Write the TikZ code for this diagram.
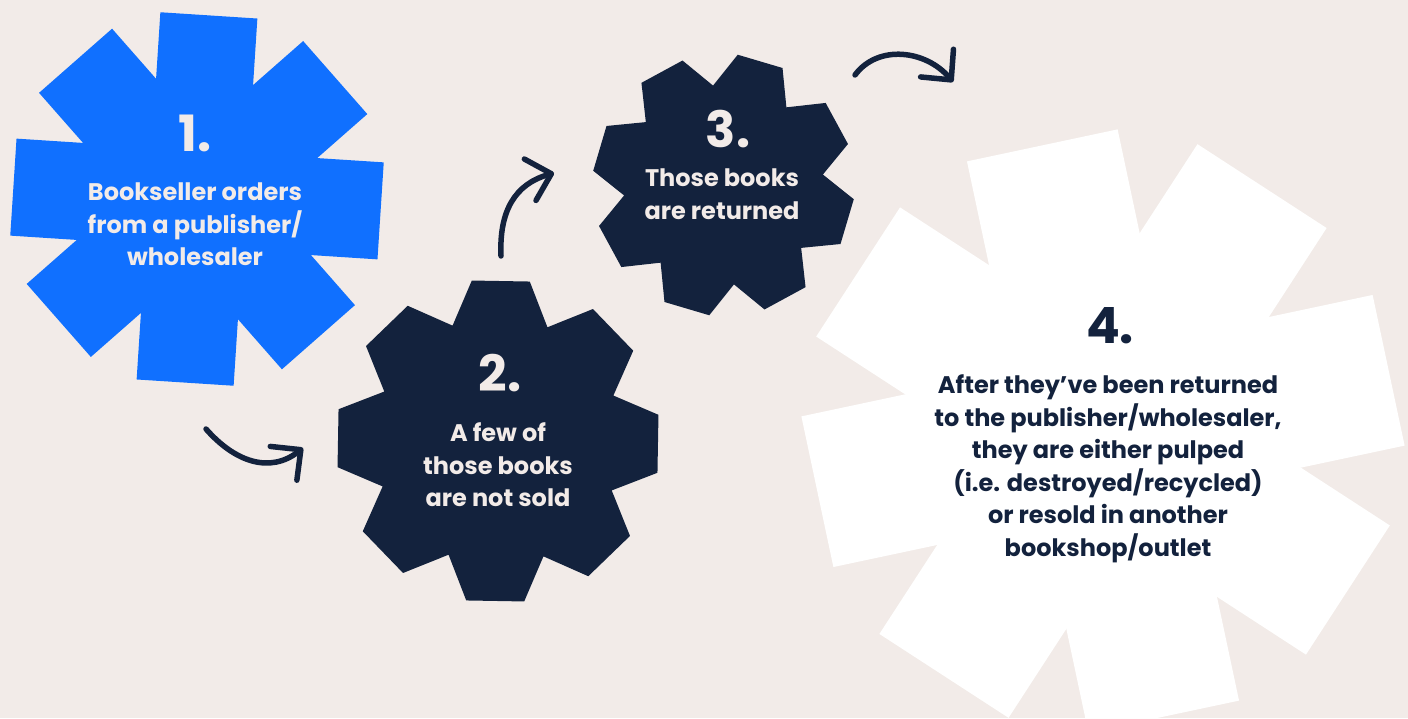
\documentclass[tikz,border=0pt]{standalone}
\usepackage{fontspec}
\setmainfont{Poppins}
\usetikzlibrary{arrows.meta}

\definecolor{bgcream}{RGB}{242,235,232}
\definecolor{bookblue}{RGB}{16,112,255}
\definecolor{booknavy}{RGB}{19,34,61}

\tikzset{
  numlabel/.style={font=\fontsize{50}{50}\selectfont\bfseries, anchor=base},
  steptext/.style={font=\fontsize{24}{32.5}\selectfont\bfseries, align=center},
  flowarrow/.style={draw=booknavy, line width=5.5pt, line cap=round,
    -{Straight Barb[length=22pt,width=43pt,round]}},
}

\begin{document}
\begin{tikzpicture}[x=1pt,y=1pt]
            \useasboundingbox (0,0) rectangle (1408,718);
            \clip (0,0) rectangle (1408,718);
            \fill[bgcream] (0,0) rectangle (1408,718);

            \coordinate (S1) at (197,519);
            \coordinate (S2) at (498,277);
            \coordinate (S3) at (723.5,533);
            \coordinate (S4) at (1103,287);

            % star and gear shapes
            \foreach \r in {0,45,90,135}
                \fill[bookblue, shift={(S1)}, rotate=\r-3.7] (-184,-48.6) rectangle (184,48.6);
            \fill[booknavy, shift={(S2)}, rotate=-1] (-22.5:124)
                \foreach \a in {0,45,...,315} {-- (\a-10.27:162.6) -- (\a+10.27:162.6) -- (\a+22.5:124)} -- cycle;
            \fill[booknavy, shift={(S3)}, rotate=-16.5, scale=0.806] (-22.5:124)
                \foreach \a in {0,45,...,315} {-- (\a-10.27:162.6) -- (\a+10.27:162.6) -- (\a+22.5:124)} -- cycle;
            \foreach \r in {0,45,90,135}
                \fill[white, shift={(S4)}, rotate=\r+12] (-292,-77) rectangle (292,77);

            \node[numlabel, text=bgcream] (num1) at (195,566) {1.};
            \node[steptext, text=bgcream] (txt1) at (195,493.5) {Bookseller orders\\from a publisher/\\wholesaler};
            \node[numlabel, text=bgcream] (num2) at (500,326) {2.};
            \node[steptext, text=bgcream] (txt2) at (498,253) {A few of\\those books\\are not sold};
            \node[numlabel, text=bgcream] (num3) at (728,570) {3.};
            \node[steptext, text=bgcream] (txt3) at (722,524) {Those books\\are returned};
            \node[numlabel, text=booknavy] (num4) at (1110,374) {4.};
            \node[steptext, text=booknavy] (txt4) at (1108,249) {After they've been returned\\to the publisher/wholesaler,\\they are either pulped\\(i.e. destroyed/recycled)\\or resold in another\\bookshop/outlet};

            % arrows
            \coordinate (a1s) at (206,289);
            \coordinate (a1e) at (303,270);
            \coordinate (a2s) at (501,462);
            \coordinate (a2e) at (554,545);
            \coordinate (a3s) at (855,643);
            \coordinate (a3e) at (953,636);
            \draw[flowarrow] (a1s) .. controls (235,256) and (270,244) .. (a1e);
            \draw[flowarrow] (a2s) .. controls (499,507) and (515,534) .. (a2e);
            \draw[flowarrow] (a3s) .. controls (878,674) and (926,668) .. (a3e);
        \end{tikzpicture}
\end{document}
